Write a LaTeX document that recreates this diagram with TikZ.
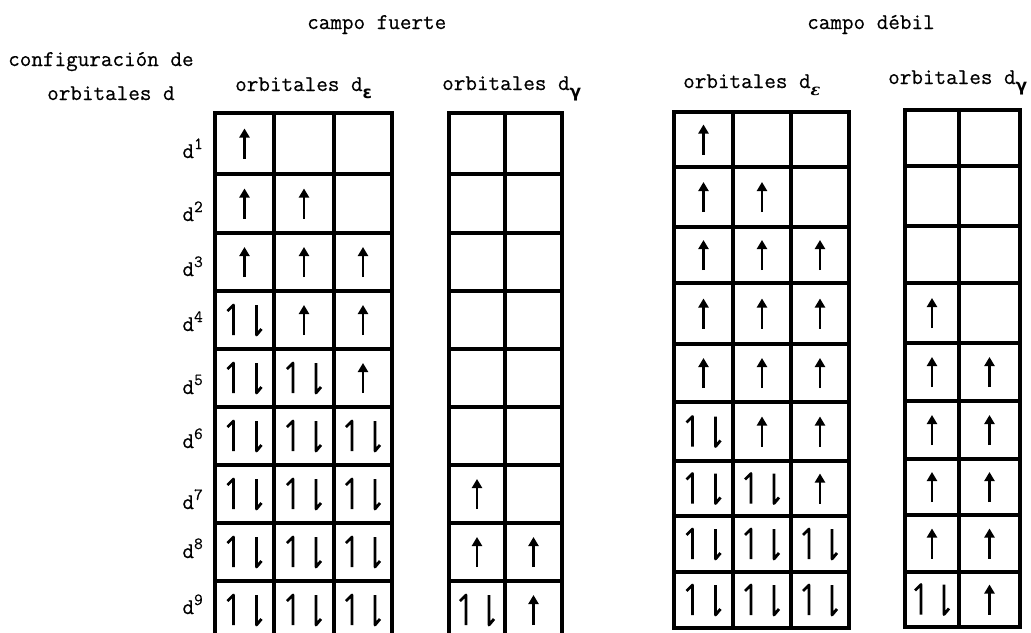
\documentclass[tikz,border=0pt]{standalone}
\usepackage{fontspec}
\usetikzlibrary{arrows.meta}
\newfontfamily\tw{Latin Modern Mono}[FakeBold=0.5]
\newfontfamily\gkb{DejaVu Sans}
\newfontfamily\gks{DejaVu Serif}
\newcommand\subeps{\raisebox{-7pt}{\gkb\bfseries\fontsize{17}{17}\selectfont ε}}
\newcommand\subepsw{\raisebox{-7pt}{\gks\bfseries\itshape\fontsize{16}{16}\selectfont ε}}
\newcommand\subgam{\raisebox{-7pt}{\gkb\bfseries\fontsize{17}{17}\selectfont γ}}
\newcommand\supnum[1]{\raisebox{9pt}{\fontsize{17}{17}\selectfont #1}}
\newcommand\putspin[3]{%
  \if#3u\pic at (#1,#2) {upspin};\fi
  \if#3p\pic at (#1,#2) {pairspin};\fi}
\begin{document}
\begin{tikzpicture}[x=1pt,y=-1pt,
  gridline/.style={line width=3.3pt,line cap=rect,black},
  spin/.style={line width=2.8pt,black},
  hdr/.style={font=\tw\fontsize{22.5}{26}\selectfont,inner sep=0pt,anchor=base west},
  lab/.style={font=\tw\fontsize{22.5}{26}\selectfont,inner sep=0pt,anchor=base east},
  pics/upspin/.style={code={\draw[spin,-{Triangle[length=9pt,width=10pt]}] (0,15) -- (0,-15);}},
  pics/pairspin/.style={code={%
    \draw[spin,line join=round] (-11,15) -- (-11,-15) -- (-17,-9);
    \draw[spin,line join=round] (12,-15) -- (12,15) -- (17,9);}}]
\useasboundingbox (0,0) rectangle (1031,632);
\clip (0,0) rectangle (1031,632);
\fill[white] (0,0) rectangle (1031,632);

% headers
\node[hdr] (cf) at (307,29) {campo fuerte};
\node[hdr] (cd) at (807,29) {campo débil};
\node[hdr] (conf) at (8,66) {configuración de};
\node[hdr] (orbd) at (47,100) {orbitales d};
\node[hdr] (se) at (235,91) {orbitales d\subeps};
\node[hdr] (sg) at (442,90) {orbitales d\subgam};
\node[hdr] (we) at (683,88) {orbitales d\subepsw};
\node[hdr] (wg) at (888,84) {orbitales d\subgam};

% row labels
\foreach \n/\y in {1/158,2/221,3/276,4/331,5/394,6/448,7/509,8/558,9/614}
  \node[lab] (l\n) at (203,\y) {d\supnum{\n}};

% strong field grids
\foreach \x in {215,274,334,392} \draw[gridline] (\x,113) -- (\x,639);
\foreach \y in {113,174,233,291,349,407,465,523,581,639} \draw[gridline] (215,\y) -- (392,\y);
\foreach \x in {449,505,562} \draw[gridline] (\x,113) -- (\x,639);
\foreach \y in {113,174,233,291,349,407,465,523,581,639} \draw[gridline] (449,\y) -- (562,\y);

% weak field grids
\foreach \x in {674,733,791,849} \draw[gridline] (\x,112) -- (\x,628);
\foreach \y in {112,167,227,283,344,402,461,516,572,628} \draw[gridline] (674,\y) -- (849,\y);
\foreach \x in {905,959,1020} \draw[gridline] (\x,110) -- (\x,627);
\foreach \y in {110,166,226,283,343,401,459,515,572,627} \draw[gridline] (905,\y) -- (1020,\y);

% strong field d_epsilon
\foreach \y/\a/\b/\c in {143.5/u/n/n,203.5/u/u/n,262/u/u/u,320/p/u/u,378/p/p/u,436/p/p/p,494/p/p/p,552/p/p/p,610/p/p/p}{
  \putspin{244.5}{\y}{\a}\putspin{304}{\y}{\b}\putspin{363}{\y}{\c}}
% strong field d_gamma
\foreach \y/\a/\b in {494/u/n,552/u/u,610/p/u}{
  \putspin{477}{\y}{\a}\putspin{533.5}{\y}{\b}}
% weak field d_epsilon
\foreach \y/\a/\b/\c in {139.5/u/n/n,197/u/u/n,255/u/u/u,313.5/u/u/u,373/u/u/u,431.5/p/u/u,488.5/p/p/u,544/p/p/p,600/p/p/p}{
  \putspin{703.5}{\y}{\a}\putspin{762}{\y}{\b}\putspin{820}{\y}{\c}}
% weak field d_gamma
\foreach \y/\a/\b in {313/u/n,372/u/u,430/u/u,487/u/u,543.5/u/u,599.5/p/u}{
  \putspin{932}{\y}{\a}\putspin{989.5}{\y}{\b}}
\end{tikzpicture}
\end{document}
